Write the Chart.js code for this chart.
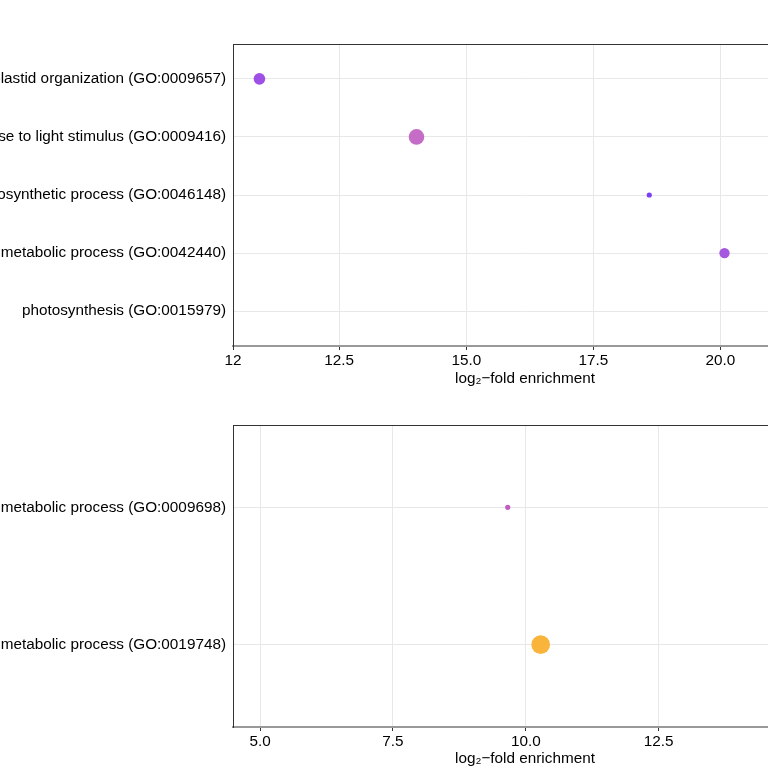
<!DOCTYPE html>
<html>
<head>
<meta charset="utf-8">
<script src="https://cdn.jsdelivr.net/npm/chart.js@4/dist/chart.umd.min.js"></script>
<style>
  html, body { margin: 0; padding: 0; background: #fff; overflow: hidden; }
  body { width: 768px; height: 768px; position: relative; }
  .panel { position: absolute; left: -200px; width: 1100px; }
  #top { top: 0; height: 400px; }
  #bottom { top: 384px; height: 384px; }
</style>
</head>
<body>
<div class="panel" id="top"><canvas id="c1"></canvas></div>
<div class="panel" id="bottom"><canvas id="c2"></canvas></div>
<script>
// top panel
const topTerms = [
  'plastid organization (GO:0009657)',
  'response to light stimulus (GO:0009416)',
  'pigment biosynthetic process (GO:0046148)',
  'pigment metabolic process (GO:0042440)',
  'photosynthesis (GO:0015979)'
];
const topEnrichment = [10.93, 14.02, 18.60, 20.08];
const topRow = [0, 1, 2, 3];
const topGenes = [5, 9, 1, 4];
const topTicks = [12.5, 15.0, 17.5, 20.0];

// bottom panel
const bottomTerms = [
  'phenylpropanoid metabolic process (GO:0009698)',
  'secondary metabolic process (GO:0019748)'
];
const bottomEnrichment = [9.66, 10.28];
const bottomRow = [0, 1];
const bottomGenes = [1, 13];
const bottomTicks = [5.0, 7.5, 10.0, 12.5, 15.0];

const topColors = ['#9d4fe6', '#c46cc6', '#7b3ff2', '#a557e0'];
const bottomColors = ['#c15fbf', '#f9b43b'];

const FONT = 'Liberation Sans, Arial, sans-serif';
const FS = 15.3;
Chart.defaults.font.family = FONT;
Chart.defaults.color = '#000';

const frame = {
  id: 'frame',
  afterDraw(chart) {
    const a = chart.chartArea, ctx = chart.ctx;
    ctx.save();
    ctx.strokeStyle = '#333';
    ctx.lineWidth = 1;
    ctx.beginPath();
    ctx.moveTo(a.left, a.top + 0.5);
    ctx.lineTo(a.right, a.top + 0.5);
    ctx.stroke();
    ctx.restore();
  }
};

function radius(n) { return 2.6 * Math.sqrt(n); }

function makeChart(id, terms, xs, rows, genes, colors, xmin, xmax, ticks, firstLabel, padTop, axisH, padBottom) {
  const data = xs.map((x, i) => ({ x: x, y: rows[i], r: radius(genes[i]) }));
  return new Chart(document.getElementById(id), {
    type: 'bubble',
    data: {
      datasets: [{
        data: data,
        backgroundColor: colors,
        borderColor: colors,
        borderWidth: 0
      }]
    },
    options: {
      responsive: true,
      maintainAspectRatio: false,
      animation: false,
      layout: { padding: { top: padTop, right: 83, left: 0, bottom: padBottom } },
      plugins: { legend: { display: false }, tooltip: { enabled: false } },
      scales: {
        x: {
          type: 'linear',
          min: xmin,
          max: xmax,
          afterBuildTicks(s) {
            const t = ticks.map(v => ({ value: v }));
            if (firstLabel) t.unshift({ value: xmin });
            s.ticks = t;
          },
          afterFit(s) { s.height = axisH; },
          ticks: {
            autoSkip: false,
            maxRotation: 0,
            padding: 2,
            font: { size: FS },
            color: '#000',
            callback: v => (firstLabel && v === xmin) ? firstLabel : v.toFixed(1)
          },
          grid: { color: '#e8e8e8', lineWidth: 1, tickLength: 4, tickColor: '#333', tickWidth: 1 },
          border: { color: '#999', width: 2 },
          title: {
            display: true,
            text: 'log\u2082\u2212fold enrichment',
            font: { size: FS },
            color: '#000',
            padding: { top: 0, bottom: 0 }
          }
        },
        y: {
          type: 'linear',
          reverse: true,
          min: -0.6,
          max: terms.length - 0.4,
          afterBuildTicks(s) { s.ticks = terms.map((_, i) => ({ value: i })); },
          afterFit(s) { s.width = 433; },
          ticks: {
            autoSkip: false,
            padding: 7,
            font: { size: FS },
            color: '#000',
            callback: v => terms[v]
          },
          grid: { color: '#e8e8e8', lineWidth: 1, drawTicks: false },
          border: { color: '#333', width: 1 }
        }
      }
    },
    plugins: [frame]
  });
}

makeChart('c1', topTerms, topEnrichment, topRow, topGenes, topColors,
  10.41, 21.9, topTicks, '12', 44, 42, 12);
makeChart('c2', bottomTerms, bottomEnrichment, bottomRow, bottomGenes, bottomColors,
  4.49, 15.48, bottomTicks, null, 41, 41, 0);
</script>
</body>
</html>
